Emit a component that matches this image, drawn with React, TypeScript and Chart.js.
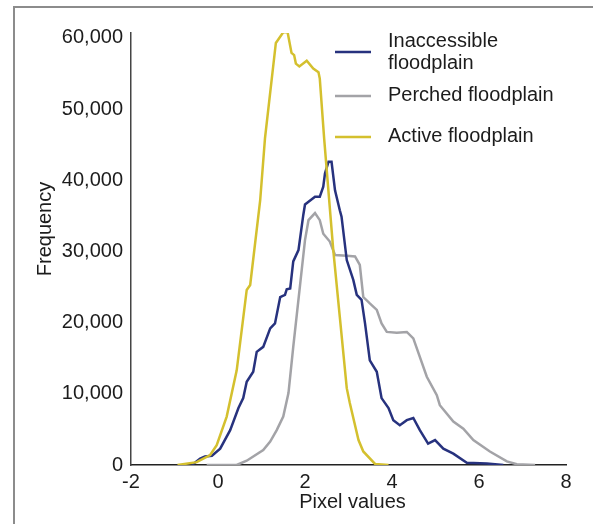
import { useEffect, useRef } from "react";
import { Chart, registerables } from "chart.js";

Chart.register(...registerables);

// ---- data ----
const activeX = [-0.93, -0.49, -0.18, -0.03, 0.2, 0.43, 0.66, 0.74, 0.97, 1.08, 1.33, 1.5, 1.6, 1.69, 1.75, 1.79, 1.87, 2.04, 2.19, 2.31, 2.34, 2.44, 2.65, 2.8, 2.96, 3.03, 3.23, 3.34, 3.61, 3.92];
const activeY = [0, 400, 1400, 2800, 6800, 13300, 24600, 25300, 37200, 45900, 59300, 60800, 60800, 57900, 57600, 56400, 56000, 56800, 55700, 55200, 54300, 45900, 30200, 20800, 10800, 8700, 3500, 1900, 150, 0];

const inaccX = [-0.6, -0.41, -0.3, -0.14, 0.05, 0.28, 0.47, 0.58, 0.66, 0.81, 0.89, 1.04, 1.2, 1.31, 1.43, 1.54, 1.58, 1.66, 1.73, 1.85, 1.96, 2.0, 2.23, 2.34, 2.42, 2.46, 2.54, 2.61, 2.69, 2.8, 2.84, 2.96, 3.11, 3.19, 3.3, 3.38, 3.49, 3.65, 3.76, 3.92, 4.03, 4.18, 4.34, 4.49, 4.64, 4.83, 4.99, 5.18, 5.41, 5.72, 6.18, 6.56];
const inaccY = [0, 900, 1200, 1300, 2300, 4900, 8000, 9400, 11700, 13100, 15900, 16600, 19200, 19900, 23600, 23900, 24700, 24800, 28600, 30200, 35100, 36600, 37700, 37700, 39100, 41000, 42600, 42600, 38600, 35800, 34900, 28800, 26000, 23900, 23200, 19900, 14700, 13100, 9400, 8000, 6300, 5600, 6300, 6600, 4900, 3000, 3500, 2300, 1600, 300, 200, 0];

const perchedX = [-0.26, 0.43, 0.66, 1.04, 1.2, 1.35, 1.5, 1.62, 1.73, 1.89, 2.0, 2.08, 2.23, 2.34, 2.42, 2.57, 2.69, 2.96, 3.15, 3.26, 3.34, 3.49, 3.65, 3.76, 3.88, 4.11, 4.34, 4.49, 4.8, 5.03, 5.1, 5.41, 5.64, 5.87, 6.25, 6.64, 6.87, 7.29];
const perchedY = [0, 0, 600, 2100, 3300, 4900, 6800, 10100, 16600, 25500, 31600, 34400, 35400, 34400, 32500, 31400, 29500, 29400, 29300, 28100, 23600, 22700, 21800, 19900, 18700, 18600, 18700, 17800, 12400, 9800, 8400, 6100, 5100, 3500, 1900, 500, 100, 0];

const xTicks = [-2, 0, 2, 4, 6, 8];
const yTicks = [0, 10000, 20000, 30000, 40000, 50000, 60000];

const legendNames = [["Inaccessible", "floodplain"], ["Perched floodplain"], ["Active floodplain"]];
const xTitle = "Pixel values";
const yTitle = "Frequency";

const BLUE = "#27327e";
const GRAY = "#a3a3a7";
const YELLOW = "#d4c02e";
const FONT = "'Liberation Sans', Arial, sans-serif";
const TEXT = "#1c1c1c";

function toPoints(xs: number[], ys: number[]) {
  return xs.map((x, i) => ({ x, y: ys[i] }));
}

export default function App() {
  const ref = useRef<HTMLCanvasElement | null>(null);

  useEffect(() => {
    document.body.style.margin = "0";
    const canvas = ref.current;
    if (!canvas) return;

    const framePlugin = {
      id: "frame",
      beforeDraw(chart: any) {
        const c = chart.ctx;
        c.save();
        c.fillStyle = "#ffffff";
        c.fillRect(0, 0, chart.width, chart.height);
        c.strokeStyle = "#8c8c8c";
        c.lineWidth = 2;
        c.beginPath();
        c.moveTo(14, chart.height + 2);
        c.lineTo(14, 7);
        c.lineTo(chart.width + 2, 7);
        c.stroke();
        c.restore();
      },
    };

    const decorPlugin = {
      id: "decor",
      afterDraw(chart: any) {
        const c = chart.ctx;
        const a = chart.chartArea;
        c.save();
        c.fillStyle = TEXT;
        c.font = `20px ${FONT}`;
        // axis titles
        c.textAlign = "center";
        c.textBaseline = "middle";
        c.fillText(xTitle, (a.left + a.right) / 2 + 4, a.bottom + 37);
        c.save();
        c.translate(45, a.top + 196);
        c.rotate(-Math.PI / 2);
        c.fillText(yTitle, 0, 0);
        c.restore();
        // legend
        const colors = [BLUE, GRAY, YELLOW];
        const lineY = [52, 96, 137];
        const textY = [[41, 63], [95], [136]];
        c.textAlign = "left";
        for (let i = 0; i < legendNames.length; i++) {
          c.strokeStyle = colors[i];
          c.lineWidth = 2.5;
          c.beginPath();
          c.moveTo(335, lineY[i]);
          c.lineTo(371, lineY[i]);
          c.stroke();
          legendNames[i].forEach((t, j) => c.fillText(t, 388, textY[i][j]));
        }
        c.restore();
      },
    };

    const chart = new Chart(canvas, {
      type: "line",
      data: {
        datasets: [
          { label: "Active floodplain", data: toPoints(activeX, activeY), borderColor: YELLOW },
          { label: "Inaccessible floodplain", data: toPoints(inaccX, inaccY), borderColor: BLUE },
          { label: "Perched floodplain", data: toPoints(perchedX, perchedY), borderColor: GRAY },
        ].map((d) => ({ ...d, borderWidth: 2.5, pointRadius: 0, tension: 0, fill: false })),
      },
      options: {
        responsive: false,
        animation: false,
        layout: { padding: { top: 33, right: 27, left: 0, bottom: 0 } },
        plugins: { legend: { display: false }, tooltip: { enabled: false } },
        scales: {
          x: {
            type: "linear",
            min: -2,
            max: 8,
            afterBuildTicks: (s: any) => { s.ticks = xTicks.map((v) => ({ value: v })); },
            afterFit: (s: any) => { s.height = 59; },
            grid: { display: false, drawTicks: false },
            border: { display: true, color: "#222222", width: 1.5 },
            ticks: {
              font: { family: FONT, size: 20 },
              color: TEXT,
              padding: 5,
              maxRotation: 0,
              callback: (v: any) => String(v),
            },
          },
          y: {
            type: "linear",
            min: 0,
            max: 60700,
            afterBuildTicks: (s: any) => { s.ticks = yTicks.map((v) => ({ value: v })); },
            afterFit: (s: any) => { s.width = 131; },
            grid: { display: false, drawTicks: false },
            border: { display: true, color: "#444444", width: 1.5 },
            ticks: {
              font: { family: FONT, size: 20 },
              color: TEXT,
              padding: 8,
              callback: (v: any) => Number(v).toLocaleString("en-US"),
            },
          },
        },
      },
      plugins: [framePlugin, decorPlugin],
    } as any);

    return () => chart.destroy();
  }, []);

  return <canvas ref={ref} width={593} height={524} style={{ display: "block" }} />;
}
